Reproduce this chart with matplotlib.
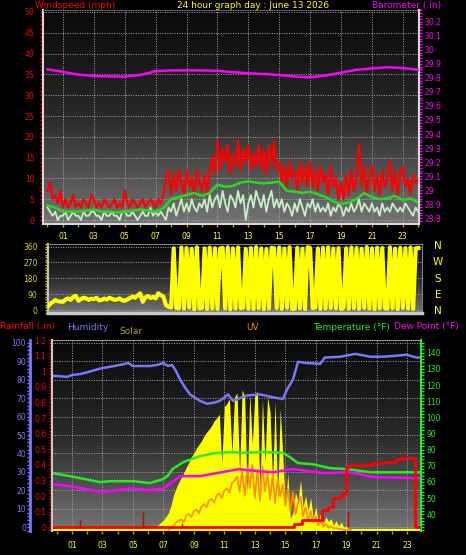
import numpy as np
import matplotlib
matplotlib.use('Agg')
import matplotlib.pyplot as plt
from matplotlib.ticker import MultipleLocator, FixedLocator, FuncFormatter
from matplotlib.colors import LinearSegmentedColormap

plt.rcParams['font.family'] = ['Liberation Sans Narrow', 'DejaVu Sans']

# ---------------- data ----------------
# wind, 10 minute samples from 00:00 to 24:00
gust_mph = [7, 9, 5, 6, 4, 7,
            3, 5, 3, 4, 6, 3,
            4, 3, 5, 4, 3, 6,
            5, 3, 4, 3, 5, 4,
            3, 4, 5, 3, 4, 3,
            7, 4, 3, 5, 4, 3,
            4, 5, 3, 4, 5, 4,
            3, 5, 4, 6, 10, 12,
            6, 11, 7, 12, 9, 6,
            12, 8, 10, 6, 12, 9,
            7, 11, 6, 12, 15, 11,
            19, 12, 17, 14, 18, 11,
            16, 13, 19, 12, 17, 14,
            18, 12, 16, 13, 18, 12,
            17, 11, 18, 13, 19, 12,
            14, 9, 13, 8, 14, 10,
            12, 7, 14, 9, 13, 8,
            14, 8, 12, 7, 13, 9,
            11, 6, 13, 8, 10, 5,
            9, 5, 11, 6, 12, 7,
            10, 18, 8, 13, 6, 11,
            13, 7, 11, 6, 12, 8,
            10, 14, 7, 12, 6, 11,
            13, 8, 10, 6, 11, 9,
            10]
speed_mph = [3, 2, 1, 2, 0, 1,
             1, 2, 0, 1, 2, 1,
             1, 0, 2, 1, 1, 2,
             2, 1, 1, 0, 2, 1,
             1, 2, 1, 1, 0, 2,
             2, 1, 1, 2, 1, 0,
             1, 2, 1, 1, 3, 1,
             2, 1, 2, 1, 0, 3,
             2, 4, 1, 3, 5, 2,
             4, 2, 5, 3, 2, 4,
             3, 5, 2, 6, 3, 5,
             6, 3, 7, 4, 2, 6,
             5, 3, 7, 4, 6, 0,
             4, 6, 3, 7, 5, 3,
             6, 2, 5, 7, 3, 5,
             3, 5, 2, 4, 3, 1,
             4, 2, 5, 3, 1, 4,
             3, 5, 2, 4, 2, 3,
             2, 4, 1, 3, 2, 4,
             3, 1, 3, 2, 4, 2,
             3, 5, 2, 4, 3, 2,
             4, 2, 3, 1, 4, 2,
             3, 2, 4, 3, 2, 3,
             2, 4, 3, 2, 1, 3,
             2]
wind_hours = np.arange(145) / 6

# 10 minute average, half hourly
avg_mph = [3.5, 3.0, 2.0, 2.0, 2.0, 2.2, 2.5, 2.0, 2.0, 1.8, 2.0, 2.2,
           2.5, 2.3, 2.0, 2.8, 5.0, 5.5, 6.0, 6.5, 5.8, 6.5, 8.5, 8.0,
           8.2, 9.0, 9.3, 9.0, 8.8, 9.0, 9.2, 7.0, 6.8, 6.5, 6.8, 6.2,
           5.5, 4.5, 3.8, 4.2, 5.0, 6.5, 5.5, 5.0, 5.2, 5.8, 4.8, 5.2, 4.2]
avg_hours = np.arange(49) / 2

# barometer, hourly
baro_in = [29.860, 29.843, 29.823, 29.813, 29.810, 29.809, 29.820, 29.847,
           29.853, 29.853, 29.853, 29.850, 29.840, 29.833, 29.827, 29.820,
           29.810, 29.803, 29.817, 29.837, 29.857, 29.867, 29.875, 29.870,
           29.857]
baro_hours = np.arange(25)

# wind direction, 10 minute samples
dir_deg = [20, 35, 45, 57, 50, 48,
           47, 60, 66, 58, 75, 80,
           53, 62, 70, 66, 58, 64,
           62, 70, 55, 57, 65, 60,
           70, 64, 58, 60, 66, 55,
           53, 60, 68, 76, 70, 82,
           95, 47, 72, 80, 68, 75,
           66, 95, 85, 76, 28, 19,
           15, 350, 12, 10, 355, 8,
           352, 14, 348, 5, 356, 10,
           12, 350, 6, 354, 9, 351,
           7, 349, 353, 10, 356, 4,
           350, 9, 355, 12, 14, 347,
           8, 352, 6, 357, 11, 350,
           5, 346, 9, 353, 351, 12,
           355, 7, 349, 13, 356, 6,
           8, 353, 10, 348, 6, 357,
           352, 11, 15, 350, 7, 354,
           9, 356, 12, 349, 10, 352,
           6, 14, 351, 8, 355, 11,
           353, 7, 348, 12, 357, 9,
           350, 5, 354, 10, 352, 13,
           8, 356, 11, 349, 6, 353,
           12, 351, 9, 355, 7, 350,
           352]
dir_hours = np.arange(145) / 6

# humidity (%)
hum_hours = [-0.3, 0.0, 0.67, 1.0, 1.5, 2.0, 2.84, 3.5, 4.15, 4.7, 5.0, 6.1,
             6.6, 7.0, 7.3, 7.56, 7.8, 8.1, 8.4, 8.75, 9.4, 9.86, 10.3, 10.7,
             11.24, 11.57, 12.03, 12.5, 13.34, 14.1, 14.85, 15.1, 15.5, 15.84,
             16.4, 17.3, 17.6, 18.6, 19.6, 20.6, 21.5, 22.3, 22.98, 23.6, 23.9]
hum_pct = [82, 82, 81.5, 82.5, 83, 84, 86, 87, 88, 89, 87.4, 87.4,
           88, 89, 87.4, 88, 85, 80, 76, 72, 68.5, 67, 67.5, 68.5,
           72, 68.5, 70, 71.5, 72, 70.6, 69.5, 74.5, 80, 89.7,
           89, 88.6, 92, 92.4, 94, 92.4, 92.5, 93, 93.5, 92, 92]

# temperature and dew point (F)
temp_hours = [-0.3, 0.87, 2.0, 2.84, 3.5, 5.0, 5.5, 6.1, 6.97, 7.3, 7.6, 8.3,
              9.4, 10.5, 11.6, 12.03, 13.7, 14.85, 15.3, 15.84, 16.8, 17.9,
              19.05, 20.6, 23.9]
temp_f = [65.5, 63.6, 61.5, 59.9, 60.5, 60.5, 60.0, 59.3, 61.7, 64, 68, 72.3,
          76, 78, 78.5, 78, 78.5, 78, 75.4, 71.7, 71, 68.6,
          68, 66, 66]
dew_hours = [-0.3, 0.87, 2.0, 3.04, 4.8, 6.1, 7.0, 7.6, 8.1, 9.4, 10.5, 12.0,
             12.5, 14.2, 15.5, 17.5, 19.2, 20.8, 23.9]
dew_f = [58.6, 57.4, 55.5, 53.7, 56, 55, 56, 60, 63.6, 63.6, 65.5, 68,
         67.3, 66, 68, 65.5, 66, 63, 62.4]

# solar radiation, 10 minute samples 06:00 .. 19:20
solar_wm2 = [0, 0, 5, 15, 28, 40,
             53, 70, 90, 130, 185, 220,
             250, 275, 300, 330, 355, 385,
             405, 430, 450, 470, 495, 515,
             530, 550, 575, 590, 610, 350,
             650, 665, 690, 400, 700, 720,
             300, 740, 700, 180, 720, 450,
             710, 730, 200, 690, 350, 700,
             620, 250, 680, 150, 640, 400,
             120, 300, 60, 90, 200, 150,
             263, 120, 180, 100, 170, 60,
             121, 40, 90, 30, 70, 45,
             60, 25, 50, 20, 42, 15,
             20, 5, 0]
solar_hours = np.arange(36, 117) / 6

# UV index, 10 minute samples 07:20 .. 19:20
uv_index = [0, 0.3, 0.6, 1.0,
            1.2, 1.4, 1.0, 1.9, 2.1, 1.7,
            2.5, 2.7, 2.2, 3.1, 3.4, 3.0,
            3.9, 4.1, 3.6, 4.6, 4.8, 4.2,
            5.2, 5.5, 4.9, 6.2, 6.5, 7.0,
            5.0, 7.8, 4.5, 8.2, 5.5, 8.6,
            4.2, 7.9, 3.8, 8.4, 5.1, 7.6,
            4.0, 7.2, 3.5, 6.8, 4.4, 6.0,
            3.2, 5.4, 2.5, 5.0, 2.0, 3.5,
            4.4, 1.8, 3.0, 1.2, 2.5, 1.0,
            1.8, 0.6, 1.2, 0.4, 0.8, 0.3,
            0.5, 0.2, 0.3, 0.1, 0.2, 0,
            0, 0, 0]
uv_hours = np.arange(44, 117) / 6

# rainfall total (in)
rain_hours = [-0.3, 15.5, 15.6, 16.1, 17.2, 17.4, 17.8, 18.1, 18.6, 18.8,
              19.0, 19.1, 20.6, 20.8, 21.4, 22.3, 22.6, 23.52, 23.9]
rain_in = [0, 0.0, 0.02, 0.045, 0.05, 0.11, 0.13, 0.185, 0.2, 0.22,
           0.38, 0.40, 0.41, 0.415, 0.42, 0.44, 0.445, 0.0, 0.0]
rate_hours = [1.52, 5.66, 8.22, 19.1]
rate_in = [0.05, 0.10, 0.03, 0.10]

hour_ticks = list(range(1, 24, 2))

# ---------------- figure ----------------
fig = plt.figure(figsize=(4.66, 5.55), dpi=100, facecolor='black')


def box(l, t, r, b):
    return [l / 466, 1 - b / 555, (r - l) / 466, (b - t) / 555]


def ftext(x, y, s, color, size=6.5, ha='left'):
    fig.text(x / 466, 1 - y / 555, s, color=color, fontsize=size, ha=ha, va='center')


bg_cmap = LinearSegmentedColormap.from_list('bg', ['#080808', '#2a2a2a', '#747474'])
grad = np.linspace(1, 0, 256)[:, None]


def background(ax):
    x0, x1 = ax.get_xlim()
    y0, y1 = ax.get_ylim()
    ax.imshow(grad, cmap=bg_cmap, aspect='auto', origin='lower',
              extent=[x0, x1, y0, y1], zorder=0, interpolation='bilinear')
    ax.set_xlim(x0, x1)
    ax.set_ylim(y0, y1)


def hour_axis(ax, pad):
    ax.xaxis.set_major_locator(FixedLocator(hour_ticks))
    ax.xaxis.set_minor_locator(MultipleLocator(1))
    ax.xaxis.set_major_formatter(FuncFormatter(lambda v, p: '%02d' % v))
    ax.tick_params(axis='x', which='both', color='#b0b000', labelcolor='#ffff00',
                   length=2, width=1, pad=pad, labelsize=5.5)


def overlay(pos, xlim, ylim):
    ax = fig.add_axes(pos)
    ax.set_xlim(*xlim)
    ax.set_ylim(*ylim)
    ax.patch.set_visible(False)
    ax.set_xticks([])
    ax.set_yticks([])
    for s in ax.spines.values():
        s.set_visible(False)
    return ax


grid_kw = dict(color='#a8a8a8', ls=(0, (1, 1.5)), lw=0.7)

# ---- panel 1 : wind speed + barometer ----
ax1 = fig.add_axes(box(43, 10, 419, 223.5))
ax1.set_xlim(-0.29, 24.05)
ax1.set_ylim(-0.84, 50.48)
background(ax1)
ax1.plot(wind_hours, gust_mph, color='#ff0000', lw=1.6, zorder=3)
ax1.plot(wind_hours, speed_mph, color='#c8f0c8', lw=1.3, zorder=4)
ax1.plot(avg_hours, avg_mph, color='#22dd22', lw=1.8, zorder=5)
ax1.yaxis.set_major_locator(MultipleLocator(5))
ax1.yaxis.set_minor_locator(MultipleLocator(1))
hour_axis(ax1, 4)
ax1.grid(True, **grid_kw)
ax1.tick_params(axis='y', which='both', colors='#ff0000', labelsize=5.5,
                length=2.2, width=1, pad=4)
for s in ['left', 'bottom', 'right']:
    ax1.spines[s].set_color('#d8d8d8')
    ax1.spines[s].set_linewidth(1.5)
ax1.spines['top'].set_color('#606060')

ax1b = ax1.twinx()
ax1b.set_ylim(28.763, 30.283)
ax1b.plot(baro_hours, baro_in, color='#ff00ff', lw=1.8, zorder=5)
ax1b.yaxis.set_major_locator(MultipleLocator(0.1))
ax1b.yaxis.set_minor_locator(MultipleLocator(0.02))
ax1b.yaxis.set_major_formatter(FuncFormatter(lambda v, p: '%g' % round(v, 1)))
ax1b.tick_params(axis='y', which='both', colors='#ff00ff', labelsize=5.5,
                 length=2.2, width=1, pad=2)
for s in ['left', 'top', 'bottom']:
    ax1b.spines[s].set_visible(False)
ax1b.spines['right'].set_color('#d8d8d8')
ax1b.spines['right'].set_linewidth(1.5)

ftext(35, 5.5, 'Windspeed (mph)', '#ff0000')
ftext(253, 5.5, '24 hour graph day : June 13 2026', '#ffff00', ha='center')
ftext(372, 5.5, 'Barometer (.in)', '#ff00ff')

# ---- panel 2 : wind direction ----
ax2 = fig.add_axes(box(48, 244, 422, 312.7))
ax2.set_xlim(0.03, 24.24)
ax2.set_ylim(-15, 375)
background(ax2)
ax2.plot(dir_hours, dir_deg, color='#ffff00', lw=3, zorder=3)
ax2.set_xticks([])
ax2.yaxis.set_major_locator(FixedLocator([0, 90, 180, 270, 360]))
ax2.yaxis.set_minor_locator(MultipleLocator(15))
ax2.yaxis.grid(True, **grid_kw)
ax2.tick_params(axis='y', which='both', colors='#d4d400', labelsize=5.5,
                length=2.5, width=1, pad=5)
ax2.spines['left'].set_color('#c0c0c0')
ax2.spines['left'].set_linewidth(1.5)
ax2.spines['bottom'].set_color('#c8c8c8')
ax2.spines['bottom'].set_linewidth(2.5)
ax2.spines['top'].set_color('#808080')
ax2.spines['right'].set_color('#808080')
for lab, y in zip(['N', 'W', 'S', 'E', 'N'], [246, 262, 279, 295, 311]):
    ftext(438, y, lab, '#ffff00', size=7.5, ha='center')

# ---- panel 3 : humidity, solar, uv, temperature, rain ----
pos3 = box(52, 340, 421, 531)
xl3 = (-0.315, 23.91)
axh = fig.add_axes(pos3)
axh.set_xlim(*xl3)
axh.set_ylim(-2.0, 101.5)
background(axh)
hour_axis(axh, 5)
axh.yaxis.set_major_locator(MultipleLocator(10))
axh.yaxis.set_minor_locator(MultipleLocator(2))
axh.grid(True, **grid_kw)
axh.tick_params(axis='y', which='both', colors='#7878ff', labelsize=5.5,
                length=2, width=1, pad=1)
axh.spines['left'].set_position(('outward', 15.8))
axh.spines['left'].set_color('#7878ff')
axh.spines['left'].set_linewidth(2)
axh.spines['bottom'].set_visible(False)
axh.spines['right'].set_visible(False)
axh.spines['top'].set_color('#909090')

axs = overlay(pos3, xl3, (-5.3, 1000))
axs.fill_between(solar_hours, solar_wm2, color='#ffff00', lw=0)
axs.axhline(0, color='#ffff00', lw=1.6)

axu = overlay(pos3, xl3, (-0.13, 25))
axu.plot(uv_hours, uv_index, color='#ff8c00', lw=1.2)

axhl = overlay(pos3, xl3, (-2.0, 101.5))
axhl.plot(hum_hours, hum_pct, color='#7878ff', lw=1.8)

axt = overlay(pos3, xl3, (29.67, 147.86))
axt.plot(temp_hours, temp_f, color='#22ee22', lw=1.8)
axt.plot(dew_hours, dew_f, color='#ff00ff', lw=1.8)
axt.yaxis.tick_right()
axt.set_yticks(range(40, 150, 10))
axt.yaxis.set_minor_locator(MultipleLocator(2))
axt.tick_params(axis='y', which='both', colors='#22ee22', labelsize=5.5,
                length=2, width=1, pad=2)
axt.spines['right'].set_visible(True)
axt.spines['right'].set_color('#22ee22')
axt.spines['right'].set_linewidth(1.5)

axr = overlay(pos3, xl3, (-0.0237, 1.2006))
axr.plot(rain_hours, rain_in, color='#ff0000', lw=2, drawstyle='steps-post')
axr.vlines(rate_hours, 0, rate_in, color='#cc0000', lw=1)
axr.yaxis.set_major_locator(MultipleLocator(0.1))
axr.yaxis.set_minor_locator(MultipleLocator(0.02))
axr.yaxis.set_major_formatter(FuncFormatter(lambda v, p: '%g' % round(v, 2)))
axr.tick_params(axis='y', which='both', colors='#ff0000', labelsize=5.5,
                length=2, width=1, pad=2)
axr.spines['left'].set_visible(True)
axr.spines['left'].set_color('#c8c8c8')
axr.spines['left'].set_linewidth(1.5)

ftext(0, 327, 'Rainfall (.in)', '#ff0000')
ftext(67, 327, 'Humidity', '#7878ff')
ftext(119, 331.7, 'Solar', '#a8a800')
ftext(246, 327, 'UV', '#ff8000')
ftext(313, 327, 'Temperature (\u00b0F)', '#22ee22')
ftext(394, 327, 'Dew Point (\u00b0F)', '#ff00ff')

fig.savefig('out.png', dpi=100, facecolor='black')
